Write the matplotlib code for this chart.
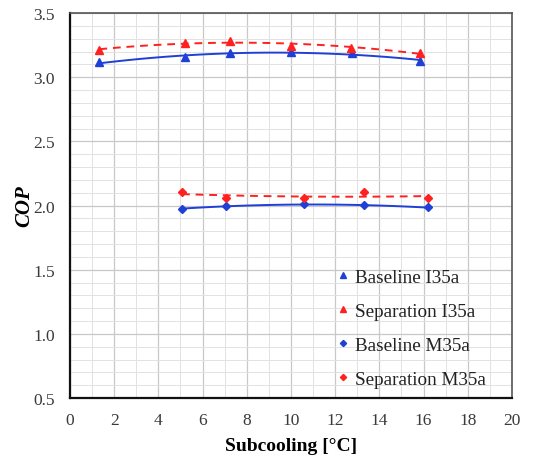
import numpy as np
import matplotlib
matplotlib.use("Agg")
import matplotlib.pyplot as plt
from matplotlib.ticker import MultipleLocator

plt.rcParams['font.family'] = ['Liberation Serif', 'DejaVu Serif']

x_i35 = [1.33, 5.22, 7.24, 10.0, 12.76, 15.82]
base_i35 = [3.116, 3.155, 3.186, 3.198, 3.186, 3.128]
x_i35s = [1.33, 5.22, 7.24, 10.0, 12.70, 15.82]
sep_i35 = [3.212, 3.271, 3.284, 3.245, 3.23, 3.19]

x_m35 = [5.07, 7.06, 10.59, 13.3, 16.2]
base_m35 = [1.975, 1.996, 2.009, 2.001, 1.985]
sep_m35 = [2.105, 2.058, 2.058, 2.102, 2.06]

labels = ['Baseline I35a', 'Separation I35a', 'Baseline M35a', 'Separation M35a']
blue = '#1f3fd6'
red = '#ff2020'

fig = plt.figure(figsize=(5.52, 4.56), dpi=100)
ax = fig.add_axes([0.1268, 0.125, 0.8007, 0.844])

def trend(xs, ys, color, ls):
    c = np.polyfit(xs, ys, 2)
    xx = np.linspace(min(xs), max(xs), 100)
    ax.plot(xx, np.polyval(c, xx), color=color, ls=ls, lw=1.4, zorder=2)

trend(x_i35, base_i35, blue, '-')
trend(x_i35s, sep_i35, red, (0, (4, 3)))
trend(x_m35, base_m35, blue, '-')
trend(x_m35, sep_m35, red, (0, (4, 3)))

ax.plot(x_i35, base_i35, '^', color=blue, ms=6, ls='none', label=labels[0], zorder=3)
ax.plot(x_i35s, sep_i35, '^', color=red, ms=6, ls='none', label=labels[1], zorder=3)
ax.plot(x_m35, base_m35, 'D', color=blue, ms=4.5, ls='none', label=labels[2], zorder=3)
ax.plot(x_m35, sep_m35, 'D', color=red, ms=4.5, ls='none', label=labels[3], zorder=3)

ax.set_xlim(0, 20)
ax.set_ylim(0.5, 3.5)
ax.xaxis.set_major_locator(MultipleLocator(2))
ax.xaxis.set_minor_locator(MultipleLocator(1))
ax.yaxis.set_major_locator(MultipleLocator(0.5))
ax.yaxis.set_minor_locator(MultipleLocator(0.1))
ax.yaxis.set_major_formatter(matplotlib.ticker.FormatStrFormatter('%.1f'))
ax.grid(which='major', color='#c8c8c8', lw=0.9)
ax.grid(which='minor', color='#e2e2e2', lw=0.7)
ax.set_axisbelow(True)
ax.tick_params(which='both', length=0, labelsize=12.5, labelcolor='#3a3a3a')
ax.tick_params(axis='x', pad=10)
ax.tick_params(axis='y', pad=11)

for s in ['left', 'bottom']:
    ax.spines[s].set_color('#111111')
    ax.spines[s].set_linewidth(1.6)
for s in ['top', 'right']:
    ax.spines[s].set_color('#555555')
    ax.spines[s].set_linewidth(1.2)

ax.set_xlabel('Subcooling [°C]', fontsize=14, fontweight='bold', labelpad=6.5)
ax.set_ylabel('COP', fontsize=15, fontweight='bold', style='italic', labelpad=-0.5)

leg = ax.legend(loc='center left', frameon=False, fontsize=13.8, handlelength=0.6,
                handletextpad=0.3, labelspacing=0.86, markerscale=0.7,
                bbox_to_anchor=(0.58, 0.278), bbox_transform=fig.transFigure)
for t in leg.get_texts():
    t.set_color('#222222')

fig.savefig('out.png', dpi=100, facecolor='white')
